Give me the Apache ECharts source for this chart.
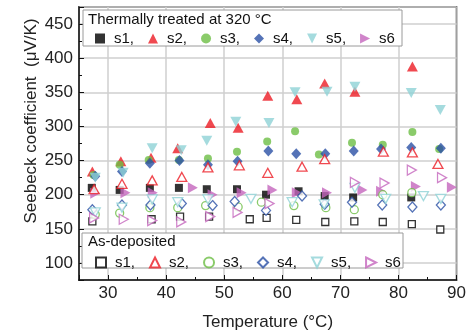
<!DOCTYPE html>
<html>
<head>
<meta charset="utf-8">
<script src="https://cdn.jsdelivr.net/npm/echarts@6.0.0/dist/echarts.min.js"></script>
<style>
  html, body { margin: 0; padding: 0; background: #fff; }
  #main { width: 469px; height: 336px; }
</style>
</head>
<body>
<div id="main"></div>
<script>
// series names / colours
var seriesNames = ['s1', 's2', 's3', 's4', 's5', 's6'];
var colors = ['#000000', '#ec1c24', '#6dbe45', '#2b50a5', '#8ed2d6', '#c465bd'];

// thermally treated at 320 °C : [temperature, seebeck]
var treatedS1 = [[27.2,210],[32,207],[37.2,210],[42.2,210],[47,208],[52.2,208],[57.2,200],[62.8,205],[67.3,198],[72.2,196],[82.2,196]];
var treatedS2 = [[27.3,234],[32.2,249],[37.4,254],[42,268],[47.6,305],[52.4,298],[57.5,345],[62.5,340],[67.3,363],[72.5,351],[82.4,388]];
var treatedS3 = [[27.5,229],[32,244],[37,251],[42.2,251],[47.2,253],[52.2,263],[57.4,278],[62.2,293],[66.3,259],[72,276],[77.3,273],[82.4,292],[87,267]];
var treatedS4 = [[27.8,227],[32.4,234],[37.2,246],[42.3,250],[47.2,244],[52.3,249],[57.6,264],[62.4,260],[67.4,260],[72.3,264],[77,267],[82.2,269],[87.3,268]];
var treatedS5 = [[27.8,225],[32.6,232],[37.6,268],[42.6,265],[47,279],[52,307],[57.7,305],[62.2,350],[67.7,351],[72.5,358],[82.2,349],[87.2,324]];
var treatedS6 = [[27.8,202],[33,203],[37.7,203],[44.6,210],[48,200],[53,203],[58.3,207],[62.5,203],[67.7,203],[73.8,207],[77,205],[83,212],[89.2,211]];

// as-deposited
var asDepS1 = [[27.3,161],[37.5,164],[42.4,168],[47.4,168],[54.4,164],[57.3,166],[62.4,163],[67.4,160],[72.4,161],[77.3,160],[82.3,157],[87.2,149]];
var asDepS2 = [[27.6,208],[32.4,216],[37.6,221],[42.7,226],[47.2,240],[52.6,243],[57.5,232],[63.4,241],[67.3,252],[77.4,263],[82.4,262],[86.8,245]];
var asDepS3 = [[27.8,171],[32,173],[37.2,181],[42,181],[46.8,184],[52.4,182],[56.4,189],[62,184],[67.5,181],[72.4,178],[77.3,200],[82.3,203]];
var asDepS4 = [[27.3,178],[32.4,185],[37.3,185],[42.7,187],[48,184],[51.8,190],[57.2,177],[63.4,198],[67.3,186],[72,189],[77.2,185],[82.4,182],[87.3,185]];
var asDepS5 = [[27.8,174],[32.4,181],[37.6,193],[42,189],[47.2,193],[54.6,194],[61.7,189],[67.2,186],[72.5,210],[77.8,194],[84.3,198],[87.3,194]];
var asDepS6 = [[27.6,166],[32.7,164],[37.6,162],[42.6,160],[47.6,168],[52.3,174],[57.8,187],[72.5,218],[77.6,217],[82.3,236],[87.5,225]];

var treated = [treatedS1, treatedS2, treatedS3, treatedS4, treatedS5, treatedS6];
var asDep = [asDepS1, asDepS2, asDepS3, asDepS4, asDepS5, asDepS6];

var symbols = ['rect', 'triangle', 'circle', 'diamond', 'path://M0,0L2,0L1,2Z', 'path://M0,0L2,1L0,2Z'];
var sizes = [8, [11, 10], 8, [10, 11], [11, 10], [10, 11]];
var hollowSizes = [7, [10, 9], 8, [9, 10], [10, 9], [9, 10]];

var FONT = '"Liberation Sans", Arial, sans-serif';

var series = [];
var legendT = [], legendA = [];
for (var i = 0; i < 6; i++) {
    series.push({
        name: 'T:' + seriesNames[i],
        type: 'scatter',
        data: treated[i],
        symbol: symbols[i],
        symbolSize: sizes[i],
        itemStyle: { color: colors[i] },
        z: 2
    });
    legendT.push('T:' + seriesNames[i]);
}
for (var i = 0; i < 6; i++) {
    series.push({
        name: 'A:' + seriesNames[i],
        type: 'scatter',
        data: asDep[i],
        symbol: symbols[i],
        symbolSize: hollowSizes[i],
        itemStyle: { color: '#ffffff', borderColor: colors[i], borderWidth: 1.3 },
        z: 2
    });
    legendA.push('A:' + seriesNames[i]);
}

function legendFmt(name) {
    var s = name.slice(2);
    return s === 's6' ? s : s + ',';
}

var legendBase = {
    left: 95,
    orient: 'horizontal',
    padding: 0,
    itemGap: 14,
    itemWidth: 10,
    itemHeight: 10,
    formatter: legendFmt,
    textStyle: { fontFamily: FONT, fontSize: 15, color: '#111', padding: [0, 0, 0, 4] },
    z: 5
};

var myChart = echarts.init(document.getElementById('main'));
myChart.setOption({
    animation: false,
    grid: {
        left: 79, right: 12, top: 7, bottom: 56,
        show: true, borderColor: '#111', borderWidth: 1.5
    },
    xAxis: {
        type: 'value',
        min: 25, max: 90,
        splitNumber: 7,
        axisLine: { lineStyle: { color: '#111', width: 1.5 } },
        axisTick: { inside: true, length: 5, lineStyle: { color: '#111' } },
        minorTick: { show: true, splitNumber: 2, length: 3, lineStyle: { color: '#111' } },
        splitLine: { show: true, lineStyle: { color: '#cfcfcf', width: 1.5 } },
        axisLabel: { showMinLabel: false, margin: 5, fontFamily: FONT, fontSize: 17, color: '#222' },
        name: 'Temperature (°C)',
        nameLocation: 'middle',
        nameGap: 34,
        nameTextStyle: { fontFamily: FONT, fontSize: 17, color: '#222' }
    },
    yAxis: {
        type: 'value',
        min: 75, max: 475,
        splitNumber: 8,
        axisLine: { lineStyle: { color: '#111', width: 1.5 } },
        axisTick: { inside: true, length: 5, lineStyle: { color: '#111' } },
        minorTick: { show: true, splitNumber: 2, length: 3, lineStyle: { color: '#111' } },
        splitLine: { show: true, lineStyle: { color: '#cfcfcf', width: 1.5 } },
        axisLabel: { showMinLabel: false, showMaxLabel: false, margin: 6, fontFamily: FONT, fontSize: 17, color: '#222' }
    },
    legend: [
        Object.assign({}, legendBase, { data: legendT, top: 31 }),
        Object.assign({}, legendBase, { data: legendA, top: 255 })
    ],
    graphic: [
        // y axis name
        {
            type: 'text', x: 31, y: 121, rotation: Math.PI / 2, z: 10,
            style: { text: 'Seebeck coefficient  (\u03bcV/K)', font: '17px ' + FONT, fill: '#222', align: 'center', verticalAlign: 'middle' }
        },
        // legend boxes
        {
            type: 'rect', z: 3,
            shape: { x: 83, y: 10, width: 319, height: 36 },
            style: { fill: '#fff', stroke: '#9a9a9a', lineWidth: 1 }
        },
        {
            type: 'text', x: 88, y: 20, z: 4,
            style: { text: 'Thermally treated at 320 °C', font: '15px ' + FONT, fill: '#111', verticalAlign: 'middle' }
        },
        {
            type: 'rect', z: 3,
            shape: { x: 82, y: 233, width: 321, height: 35 },
            style: { fill: '#fff', stroke: '#9a9a9a', lineWidth: 1 }
        },
        {
            type: 'text', x: 88, y: 242, z: 4,
            style: { text: 'As-deposited', font: '15px ' + FONT, fill: '#111', verticalAlign: 'middle' }
        }
    ],
    series: series
});
</script>
</body>
</html>
